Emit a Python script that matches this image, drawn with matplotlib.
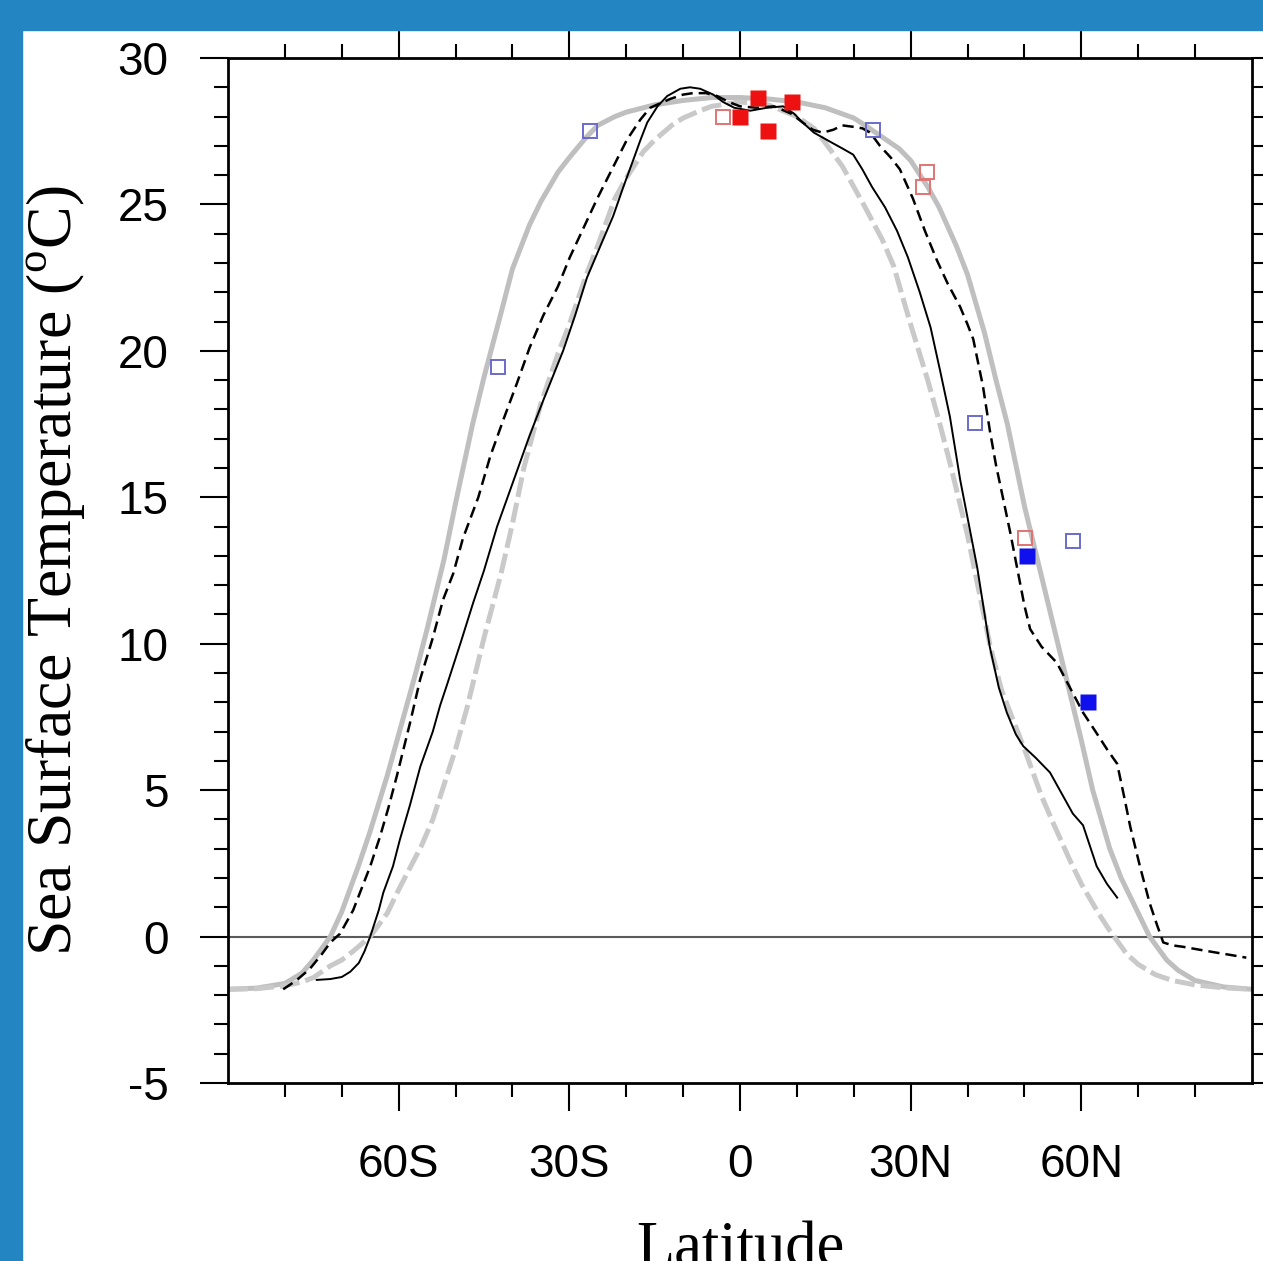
import matplotlib
matplotlib.use("Agg")
import matplotlib.pyplot as plt
from matplotlib.patches import Rectangle
from matplotlib.ticker import FixedLocator, MultipleLocator

plt.rcParams["mathtext.fontset"] = "custom"
plt.rcParams["mathtext.rm"] = "Liberation Serif"
plt.rcParams["axes.unicode_minus"] = False

# gray solid (wide profile)
wide_lat = [-90, -85, -80, -77, -75, -72, -70, -67, -65, -62, -60, -57, -55, -52, -50, -47, -45,
            -42, -40, -37, -35, -32, -30, -27, -25, -22, -20, -15, -10, -5, 0, 5, 10, 15, 20, 22,
            25, 28, 30, 33, 35, 38, 40, 43, 45, 47, 50, 52, 55, 57, 60, 62, 65, 67, 70, 72, 75,
            77, 80, 85, 90]
wide_sst = [-1.80, -1.76, -1.60, -1.25, -0.8, 0.0, 0.85, 2.45, 3.6, 5.5, 6.9, 9.0, 10.5, 12.9,
            14.8, 17.5, 19.1, 21.3, 22.8, 24.3, 25.1, 26.1, 26.6, 27.3, 27.7, 28.0, 28.15, 28.4,
            28.55, 28.65, 28.65, 28.6, 28.5, 28.3, 27.95, 27.7, 27.3, 26.9, 26.5, 25.6, 24.9,
            23.6, 22.6, 20.6, 19.0, 17.5, 14.7, 13.1, 10.7, 9.1, 6.7, 5.0, 3.0, 2.0, 0.8, 0.0,
            -0.8, -1.15, -1.5, -1.72, -1.80]

# gray dashed (narrow profile)
narrow_lat = [-90, -85, -80, -77, -75, -72, -70, -68, -65, -62, -60, -58, -56, -54, -52, -50, -48,
              -45, -42, -40, -38, -35, -32, -30, -27, -25, -22, -20, -17, -15, -12, -10, -7, -5,
              0, 5, 10, 13, 15, 18, 20, 22, 25, 27, 30, 33, 35, 37, 40, 42, 44, 46, 48, 50, 53,
              55, 58, 60, 63, 65, 68, 70, 73, 76, 80, 85, 90]
narrow_sst = [-1.80, -1.78, -1.68, -1.55, -1.4, -1.0, -0.8, -0.5, 0.0, 0.8, 1.6, 2.35, 3.1,
              4.0, 5.2, 6.4, 7.8, 10.2, 12.4, 14.1, 16.0, 18.2, 19.9, 20.9, 22.6, 23.6, 25.2,
              25.9, 26.8, 27.2, 27.7, 27.95, 28.2, 28.35, 28.5, 28.4, 28.0, 27.6, 27.1, 26.3,
              25.6, 24.9, 23.8, 22.9, 20.9, 19.0, 17.6, 16.1, 13.7, 11.8, 9.9, 8.4, 7.4, 6.4,
              4.8, 3.9, 2.6, 1.8, 0.8, 0.2, -0.6, -0.95, -1.3, -1.5, -1.65, -1.75, -1.80]

# black solid
solid_lat = [-74.4, -72, -70, -68.5, -67, -66, -65, -63.5, -62.7, -61, -59.8, -58, -56.2, -54,
             -52.7, -51.5, -49, -46.9, -45, -42.7, -39.2, -37, -34.6, -31.1, -29, -26.9, -24.5,
             -22.3, -20.5, -18.8, -17.5, -16.3, -14.5, -12.8, -10.5, -8.8, -7, -4.7, -3, -1,
             1.8, 4.7, 7.6, 9.5, 11, 13, 15.3, 18.1, 19.9, 21.5, 23.2, 25.5, 27.6, 29.5, 31.6,
             33.5, 35.2, 36.9, 38.7, 40.2, 41.7, 43.9, 45.5, 46.9, 48.5, 49.8, 52, 54.5, 56.5,
             58.5, 60.3, 62.7, 64.5, 66.3]
solid_sst = [-1.48, -1.45, -1.38, -1.2, -0.9, -0.5, 0.0, 0.9, 1.5, 2.4, 3.3, 4.5, 5.8, 7.0,
             7.9, 8.6, 10.1, 11.4, 12.5, 14.0, 15.9, 17.1, 18.3, 20.0, 21.2, 22.5, 23.6, 24.6,
             25.6, 26.5, 27.2, 27.8, 28.35, 28.7, 28.95, 29.0, 28.95, 28.75, 28.5, 28.3, 28.2,
             28.3, 28.35, 28.1, 27.8, 27.45, 27.2, 26.9, 26.7, 26.2, 25.6, 24.9, 24.1, 23.2,
             22.0, 20.8, 19.3, 17.75, 15.6, 14.1, 12.6, 9.9, 8.5, 7.65, 6.9, 6.5, 6.1, 5.6, 4.9,
             4.2, 3.8, 2.4, 1.8, 1.33]

# black dashed
dash_lat = [-80.3, -78, -75.6, -73.5, -72, -70.3, -68, -66, -65, -63.3, -61.8, -60.3, -58,
            -56.2, -54, -52.2, -50.4, -48.7, -46, -43.9, -41.5, -39.2, -37, -34.6, -32, -29.9,
            -27.5, -25.1, -22.5, -19.9, -17.5, -15.8, -12.3, -10, -8.3, -6, -4, -2, 0, 3, 6, 9,
            11, 12.8, 14.5, 16.4, 18, 19.9, 21.5, 22.9, 24.6, 26.5, 28.1, 30.4, 32.5, 34.6,
            36.5, 38.7, 40, 41, 42.7, 43.9, 45, 46.2, 47.5, 48.7, 50, 51, 53, 55.7, 58, 60.3,
            62.5, 64.5, 66.3, 67.5, 68.6, 70.3, 72, 73.3, 74.4, 76, 77.9, 80.8, 83.8, 86, 88.4,
            89]
dash_sst = [-1.8, -1.5, -1.1, -0.6, -0.2, 0.1, 0.9, 1.9, 2.4, 3.4, 4.4, 5.5, 7.3, 8.8, 10.2,
            11.5, 12.4, 13.6, 15.0, 16.4, 17.7, 18.9, 20.1, 21.2, 22.2, 23.2, 24.2, 25.2, 26.2,
            27.2, 27.9, 28.3, 28.6, 28.75, 28.8, 28.8, 28.7, 28.5, 28.35, 28.3, 28.35, 28.1,
            27.8, 27.55, 27.45, 27.55, 27.7, 27.65, 27.6, 27.45, 27.0, 26.6, 26.2, 25.2, 24.1,
            23.1, 22.3, 21.5, 20.9, 20.4, 18.8, 17.3, 16.1, 15.0, 13.8, 12.6, 11.3, 10.5, 9.9,
            9.35, 8.5, 7.65, 7.0, 6.4, 5.9, 4.8, 3.75, 2.4, 1.15, 0.4, -0.2, -0.3, -0.35, -0.45,
            -0.55, -0.62, -0.7, -0.72]

# proxy sites
blue_open_lat = [-42.5, -26.4, 23.4, 41.3, 58.5]
blue_open_sst = [19.45, 27.5, 27.55, 17.55, 13.5]
red_open_lat = [-3.0, 32.8, 32.2, 50.1]
red_open_sst = [28.0, 26.1, 25.6, 13.6]
red_fill_lat = [0.0, 3.2, 4.9, 9.1]
red_fill_sst = [28.0, 28.65, 27.5, 28.5]
blue_fill_lat = [50.4, 61.2]
blue_fill_sst = [13.0, 8.0]

lat_ticks = [-60, -30, 0, 30, 60]
lat_labels = ["60S", "30S", "0", "30N", "60N"]

W, H = 1263, 1261
fig = plt.figure(figsize=(W / 100, H / 100), dpi=100)
fig.patch.set_facecolor("white")
ax = fig.add_axes([228 / W, 1 - 1083 / H, 1024 / W, 1025 / H])

ax.axhline(0, color="#5a5a5a", lw=1.5, zorder=1)
ax.plot(wide_lat, wide_sst, color="#bfbfbf", lw=3.6, solid_capstyle="butt", zorder=2)
ax.plot(narrow_lat, narrow_sst, color="#c9c9c9", lw=3.6, dashes=(4, 1.2), zorder=2)
ax.plot(solid_lat, solid_sst, color="black", lw=1.4, zorder=3)
ax.plot(dash_lat, dash_sst, color="black", lw=1.8, dashes=(4.5, 2.4), zorder=3)

ax.plot(blue_open_lat, blue_open_sst, "s", ms=10, mfc="none", mec="#6a6acc", mew=1.4, zorder=4)
ax.plot(red_open_lat, red_open_sst, "s", ms=10, mfc="none", mec="#e07474", mew=1.4, zorder=4)
ax.plot(red_fill_lat, red_fill_sst, "s", ms=11.5, color="#ee1111", mec="none", zorder=5)
ax.plot(blue_fill_lat, blue_fill_sst, "s", ms=11.5, color="#1010ee", mec="none", zorder=5)

ax.set_xlim(-90, 90)
ax.set_ylim(-5, 30)
ax.xaxis.set_major_locator(FixedLocator(lat_ticks))
ax.xaxis.set_minor_locator(FixedLocator([-80, -70, -50, -40, -20, -10, 10, 20, 40, 50, 70, 80]))
ax.set_xticklabels(lat_labels)
ax.yaxis.set_major_locator(MultipleLocator(5))
ax.yaxis.set_minor_locator(MultipleLocator(1))

for s in ax.spines.values():
    s.set_linewidth(2.0)
ax.tick_params(which="both", direction="out", top=True, right=True, width=1.5)
ax.tick_params(which="major", length=20, pad=23, labelsize=33)
ax.tick_params(which="minor", length=10)
for lab in ax.get_xticklabels() + ax.get_yticklabels():
    lab.set_fontfamily("Liberation Sans")

ax.set_ylabel(r"Sea Surface Temperature ($^\mathrm{o}$C)", family="Liberation Serif",
              fontsize=46, labelpad=21)
ax.set_xlabel("Latitude", family="Liberation Serif", fontsize=45, labelpad=25)

# blue frame along the top and left edges
blue = "#2386c3"
fig.patches.append(Rectangle((0, 1 - 30 / H), 1, 30 / H, transform=fig.transFigure,
                             color=blue, zorder=10))
fig.patches.append(Rectangle((0, 0), 22 / W, 1, transform=fig.transFigure, color=blue, zorder=10))

fig.savefig("out.png", dpi=100)
